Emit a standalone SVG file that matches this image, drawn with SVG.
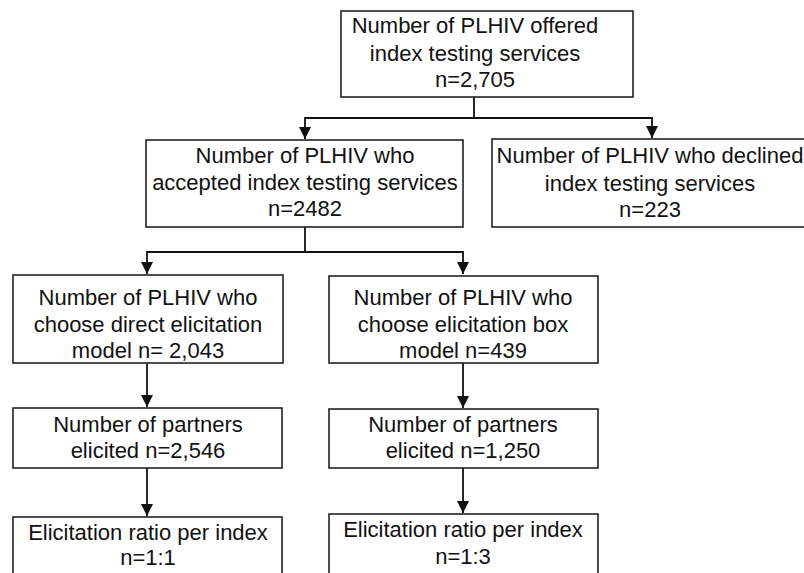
<svg xmlns="http://www.w3.org/2000/svg" width="804" height="573" viewBox="0 0 804 573">
<defs>
<style>
.box{fill:#fff;stroke:#222;stroke-width:1.6}
.t{font-family:"Liberation Sans",Arial,Helvetica,sans-serif;font-size:22px;fill:#111;text-anchor:middle}
.c{fill:none;stroke:#111;stroke-width:1.8}
</style>
<marker id="ah" markerUnits="userSpaceOnUse" markerWidth="14" markerHeight="14" viewBox="0 0 14 14" refX="12" refY="7" orient="auto">
<path d="M0,1 L12,7 L0,13 Z" fill="#111"/>
</marker>
</defs>
<rect width="804" height="573" fill="#fff"/>
<g id="connectors">
<path class="c" d="M474,97 V118 H305 V139" marker-end="url(#ah)"/>
<path class="c" d="M474,118 H652 V138" marker-end="url(#ah)"/>
<path class="c" d="M305,227 V252 H147 V274" marker-end="url(#ah)"/>
<path class="c" d="M305,252 H463 V274" marker-end="url(#ah)"/>
<path class="c" d="M147,363 V407" marker-end="url(#ah)"/>
<path class="c" d="M463,363 V408" marker-end="url(#ah)"/>
<path class="c" d="M147,468 V516" marker-end="url(#ah)"/>
<path class="c" d="M463,468 V513" marker-end="url(#ah)"/>
</g>
<g id="offered">
<rect class="box" x="341" y="11" width="292" height="86"/>
<text class="t" x="475" y="33">Number of PLHIV offered</text>
<text class="t" x="475" y="61">index testing services</text>
<text class="t" x="475" y="87">n=2,705</text>
</g>
<g id="accepted">
<rect class="box" x="146" y="140" width="317" height="87"/>
<text class="t" x="305" y="163">Number of PLHIV who</text>
<text class="t" x="305" y="190">accepted index testing services</text>
<text class="t" x="305" y="216">n=2482</text>
</g>
<g id="declined">
<rect class="box" x="492" y="139" width="330" height="88"/>
<text class="t" x="650" y="163">Number of PLHIV who declined</text>
<text class="t" x="650" y="191">index testing services</text>
<text class="t" x="650" y="217">n=223</text>
</g>
<g id="direct">
<rect class="box" x="13" y="275" width="270" height="88"/>
<text class="t" x="148" y="305">Number of PLHIV who</text>
<text class="t" x="148" y="332">choose direct elicitation</text>
<text class="t" x="148" y="358">model n= 2,043</text>
</g>
<g id="boxmodel">
<rect class="box" x="329" y="276" width="269" height="87"/>
<text class="t" x="463" y="305">Number of PLHIV who</text>
<text class="t" x="463" y="332">choose elicitation box</text>
<text class="t" x="463" y="358">model n=439</text>
</g>
<g id="partners1">
<rect class="box" x="13" y="408" width="269" height="60"/>
<text class="t" x="148" y="432">Number of partners</text>
<text class="t" x="148" y="458">elicited n=2,546</text>
</g>
<g id="partners2">
<rect class="box" x="329" y="409" width="269" height="59"/>
<text class="t" x="463" y="432">Number of partners</text>
<text class="t" x="463" y="458">elicited n=1,250</text>
</g>
<g id="ratio1">
<rect class="box" x="13" y="517" width="269" height="70"/>
<text class="t" x="148" y="540">Elicitation ratio per index</text>
<text class="t" x="148" y="565">n=1:1</text>
</g>
<g id="ratio2">
<rect class="box" x="329" y="514" width="269" height="70"/>
<text class="t" x="463" y="537">Elicitation ratio per index</text>
<text class="t" x="463" y="564">n=1:3</text>
</g>
</svg>
